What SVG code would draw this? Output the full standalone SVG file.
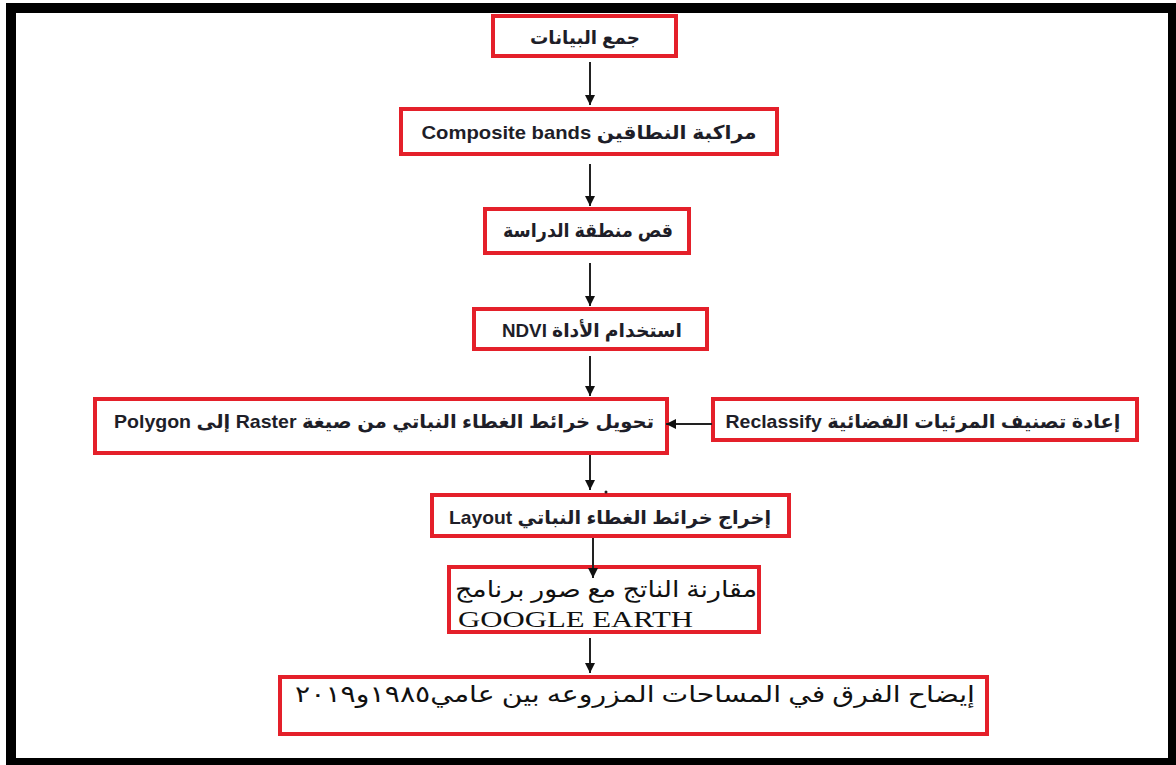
<svg xmlns="http://www.w3.org/2000/svg" width="1176" height="765" viewBox="0 0 1176 765">
  <defs>
    <marker id="arr" viewBox="0 0 10 10" refX="10" refY="5" markerWidth="10" markerHeight="10" markerUnits="userSpaceOnUse" orient="auto">
      <path d="M0,0 L10,5 L0,10 Z" fill="#111"/>
    </marker>
  </defs>
  <style>
    .box { fill: #ffffff; stroke: #e4202a; stroke-width: 4; }
    .lbl { font-family: "Liberation Sans", "DejaVu Sans", sans-serif; font-weight: bold; font-size: 19px; fill: #1e1e28; }
    .ser { font-family: "Liberation Serif", "DejaVu Serif", "DejaVu Sans", serif; font-size: 23px; fill: #111; }
    .conn { stroke: #222; stroke-width: 2; fill: none; }
  </style>
  <rect x="0" y="0" width="1176" height="765" fill="#ffffff"/>
  <path d="M6,3 H1176 V765 H6 Z M16,13 V758 H1168 V13 Z" fill="#000" fill-rule="evenodd"/>

  <g id="n1">
    <rect class="box" x="493" y="16" width="183" height="40"/>
    <text class="lbl" x="585" y="44" text-anchor="middle" direction="rtl" textLength="110" lengthAdjust="spacingAndGlyphs">جمع البيانات</text>
  </g>
  <g id="n2">
    <rect class="box" x="401" y="109" width="376" height="45"/>
    <text class="lbl" x="589" y="139" text-anchor="middle" direction="rtl" textLength="335" lengthAdjust="spacingAndGlyphs">مراكبة النطاقين Composite bands</text>
  </g>
  <g id="n3">
    <rect class="box" x="485" y="209" width="204" height="44"/>
    <text class="lbl" x="588" y="237" text-anchor="middle" direction="rtl" textLength="170" lengthAdjust="spacingAndGlyphs">قص منطقة الدراسة</text>
  </g>
  <g id="n4">
    <rect class="box" x="474" y="309" width="233" height="40"/>
    <text class="lbl" x="592" y="337" text-anchor="middle" direction="rtl" textLength="180" lengthAdjust="spacingAndGlyphs">استخدام الأداة NDVI</text>
  </g>
  <g id="n5">
    <rect class="box" x="95" y="399" width="572" height="54"/>
    <text class="lbl" x="384" y="428" text-anchor="middle" direction="rtl" textLength="540" lengthAdjust="spacingAndGlyphs">تحويل خرائط الغطاء النباتي من صيغة Raster إلى Polygon</text>
  </g>
  <g id="n6">
    <rect class="box" x="713" y="399" width="424" height="41"/>
    <text class="lbl" x="923" y="428" text-anchor="middle" direction="rtl" textLength="395" lengthAdjust="spacingAndGlyphs">إعادة تصنيف المرئيات الفضائية Reclassify</text>
  </g>
  <g id="n7">
    <rect class="box" x="432" y="495" width="357" height="41"/>
    <text class="lbl" x="610" y="524" text-anchor="middle" direction="rtl" textLength="322" lengthAdjust="spacingAndGlyphs">إخراج خرائط الغطاء النباتي Layout</text>
  </g>
  <g id="n8">
    <rect class="box" x="449" y="567" width="310" height="65"/>
    <text class="ser" x="606" y="597" text-anchor="middle" direction="rtl" textLength="302" lengthAdjust="spacingAndGlyphs">مقارنة الناتج مع صور برنامج</text>
    <text class="ser" x="458" y="627" font-size="28" textLength="235" lengthAdjust="spacingAndGlyphs">GOOGLE EARTH</text>
  </g>
  <g id="n9">
    <rect class="box" x="280" y="677" width="707" height="57"/>
    <text class="ser" x="635" y="702" text-anchor="middle" direction="rtl" font-size="24" textLength="680" lengthAdjust="spacingAndGlyphs">إيضاح الفرق في المساحات المزروعه بين عامي١٩٨٥و٢٠١٩</text>
  </g>

  <g id="connectors">
    <line class="conn" x1="590" y1="62" x2="590" y2="105" marker-end="url(#arr)"/>
    <line class="conn" x1="590" y1="164" x2="590" y2="206" marker-end="url(#arr)"/>
    <line class="conn" x1="590" y1="263" x2="590" y2="306" marker-end="url(#arr)"/>
    <line class="conn" x1="590" y1="356" x2="590" y2="396" marker-end="url(#arr)"/>
    <line class="conn" x1="712" y1="424" x2="666" y2="424" marker-end="url(#arr)"/>
    <line class="conn" x1="590" y1="455" x2="590" y2="490" marker-end="url(#arr)"/>
    <circle cx="606" cy="492" r="1.5" fill="#222"/>
    <line class="conn" x1="593" y1="538" x2="593" y2="578" marker-end="url(#arr)"/>
    <line class="conn" x1="590" y1="638" x2="590" y2="673" marker-end="url(#arr)"/>
  </g>
</svg>
